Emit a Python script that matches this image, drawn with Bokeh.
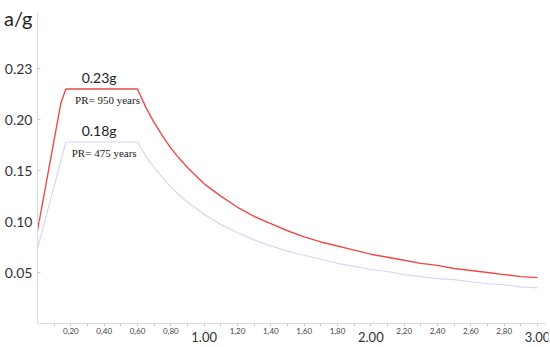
from bokeh.plotting import figure
from bokeh.models import ColumnDataSource, FixedTicker, LinearAxis, Range1d
from bokeh.core.properties import value
from bokeh.embed import file_html
from bokeh.resources import INLINE

# Spectrum data (period T in s, spectral acceleration a/g)
period_950 = [0.00, 0.14, 0.17, 0.60, 0.65, 0.70, 0.75, 0.80, 0.85, 0.90, 0.95, 1.00,
              1.10, 1.20, 1.30, 1.40, 1.50, 1.60, 1.70, 1.80, 1.90, 2.00, 2.10, 2.20,
              2.30, 2.40, 2.50, 2.60, 2.70, 2.80, 2.90, 3.00]
accel_950 = [0.091, 0.216, 0.230, 0.230, 0.212, 0.197, 0.184, 0.172, 0.162, 0.153, 0.145,
             0.137, 0.125, 0.114, 0.105, 0.098, 0.091, 0.085, 0.080, 0.076, 0.072,
             0.068, 0.065, 0.062, 0.059, 0.057, 0.054, 0.052, 0.050, 0.048, 0.046, 0.045]

period_475 = [0.00, 0.17, 0.60, 0.65, 0.70, 0.75, 0.80, 0.85, 0.90, 0.95, 1.00, 1.10,
              1.20, 1.30, 1.40, 1.50, 1.60, 1.70, 1.80, 1.90, 2.00, 2.10, 2.20, 2.30,
              2.40, 2.50, 2.60, 2.70, 2.80, 2.90, 3.00]
accel_475 = [0.0735, 0.178, 0.178, 0.164, 0.153, 0.143, 0.134, 0.126, 0.119, 0.113,
             0.107, 0.097, 0.089, 0.082, 0.076, 0.071, 0.067, 0.063, 0.059, 0.056,
             0.053, 0.051, 0.048, 0.046, 0.044, 0.043, 0.041, 0.039, 0.038, 0.036, 0.035]

# Axis ticks
y_ticks = [0.05, 0.10, 0.15, 0.20, 0.25]
y_tick_labels = ["0.05", "0.10", "0.15", "0.20", "0.23"]
y_title_tick = [0.30]
y_title = ["a/g"]
x_minor_ticks = [0.1, 0.2, 0.3, 0.4, 0.5, 0.6, 0.7, 0.8, 0.9, 1.0, 1.1, 1.2, 1.3, 1.4, 1.5,
                 1.6, 1.7, 1.8, 1.9, 2.0, 2.1, 2.2, 2.3, 2.4, 2.5, 2.6, 2.7, 2.8, 2.9, 3.0]
x_small_labels = {0.2: "0,20", 0.4: "0,40", 0.6: "0,60", 0.8: "0,80",
                  1.2: "1,20", 1.4: "1,40", 1.6: "1,60", 1.8: "1,80",
                  2.2: "2,20", 2.4: "2,40", 2.6: "2,60", 2.8: "2,80"}
x_big_ticks = [1.0, 2.0, 3.0]
x_big_labels = ["1.00", "2.00", "3.00"]

# Annotations
ann_peak_x = [0.37, 0.37]
ann_pr_x = [0.42, 0.40]
ann_y = [0.230, 0.178]
ann_peak = ["0.23g", "0.18g"]
ann_pr = ["PR= 950 years", "PR= 475 years"]

p = figure(width=550, height=347, output_backend="svg", toolbar_location=None,
           x_range=Range1d(0, 3.066), y_range=Range1d(-0.0235, 0.305),
           x_axis_location=None,
           min_border_left=20, min_border_right=2, min_border_top=12, min_border_bottom=0)
p.outline_line_color = None
p.grid.grid_line_color = None
p.background_fill_color = "white"

p.line(period_950, accel_950, line_color="#ef4a4a", line_width=1.4)
p.line(period_475, accel_475, line_color="#d6d6f6", line_width=1.2)

# Y axis
ya = p.yaxis[0]
ya.bounds = (0, 0.305)
ya.ticker = FixedTicker(ticks=y_ticks)
ya.major_label_overrides = {t: l for t, l in zip(y_ticks, y_tick_labels)}
ya.minor_tick_line_color = None
ya.axis_line_color = "#dddddd"
ya.major_tick_line_color = "#cccccc"
ya.major_tick_in = 3
ya.major_tick_out = 0
ya.major_label_standoff = 5
ya.major_label_text_font = "Lato"
ya.major_label_text_font_size = "14px"
ya.major_label_text_color = "#333333"

# Y title as an overlapping axis
yt = LinearAxis(ticker=FixedTicker(ticks=y_title_tick),
                major_label_overrides={t: l for t, l in zip(y_title_tick, y_title)})
yt.axis_line_color = None
yt.major_tick_line_color = None
yt.minor_tick_line_color = None
yt.major_tick_in = 0
yt.major_tick_out = 0
yt.major_label_standoff = -31
yt.major_label_text_font = "Lato"
yt.major_label_text_font_size = "20px"
yt.major_label_text_color = "#222222"
p.add_layout(yt, "left")

# X axis (small labels) fixed at a/g = 0
xa = LinearAxis(ticker=FixedTicker(ticks=x_minor_ticks), fixed_location=0, bounds=(0, 3.05),
                major_label_overrides={t: x_small_labels.get(t, "") for t in x_minor_ticks})
xa.minor_tick_line_color = None
xa.axis_line_color = "#dddddd"
xa.major_tick_line_color = "#cccccc"
xa.major_tick_in = 0
xa.major_tick_out = 3
xa.major_label_standoff = 1
xa.major_label_text_font = "Lato"
xa.major_label_text_font_size = "8px"
xa.major_label_text_color = "#444444"
p.add_layout(xa, "below")

# X axis (big integer labels) fixed at a/g = 0
xb = LinearAxis(ticker=FixedTicker(ticks=x_big_ticks), fixed_location=0,
                major_label_overrides={t: l for t, l in zip(x_big_ticks, x_big_labels)})
xb.axis_line_color = None
xb.major_tick_line_color = None
xb.minor_tick_line_color = None
xb.major_tick_in = 0
xb.major_tick_out = 0
xb.major_label_standoff = 8
xb.major_label_text_font = "Lato"
xb.major_label_text_font_size = "13px"
xb.major_label_text_color = "#333333"
p.add_layout(xb, "below")

# Curve annotations
ann_src = ColumnDataSource(dict(px=ann_peak_x, rx=ann_pr_x, y=ann_y, peak=ann_peak, pr=ann_pr))
p.text(x="px", y="y", text="peak", source=ann_src, y_offset=-3, text_align="center",
       text_baseline="bottom", text_font=value("Lato"), text_font_size="14px",
       text_color="#222222")
p.text(x="rx", y="y", text="pr", source=ann_src, y_offset=5, text_align="center",
       text_baseline="top", text_font=value("Liberation Serif"), text_font_size="11px",
       text_color="#222222")

open("out.html", "w").write(file_html(p, INLINE))
